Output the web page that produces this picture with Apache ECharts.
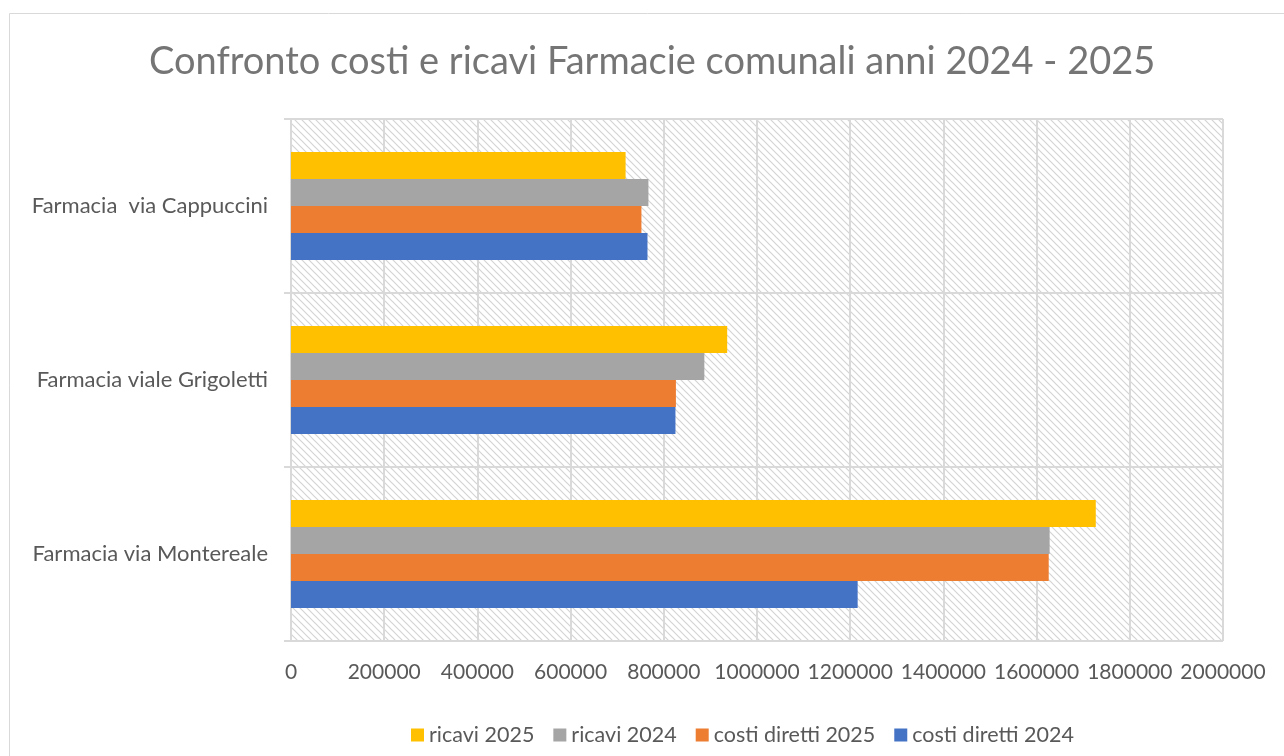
<!DOCTYPE html>
<html>
<head>
<meta charset="utf-8">
<script src="https://cdn.jsdelivr.net/npm/echarts@6/dist/echarts.min.js"></script>
<style>
  html, body { margin: 0; padding: 0; background: #fff; }
  #chart { width: 1284px; height: 756px; }
</style>
</head>
<body>
<div id="chart"></div>
<script>
// Pharmacies (bottom to top on the category axis)
const farmacie = ['Farmacia via Montereale', 'Farmacia viale Grigoletti', 'Farmacia  via Cappuccini'];

// Values per pharmacy, same order as above (euro)
const costiDiretti2024 = [1216000, 825000, 765000];
const costiDiretti2025 = [1626000, 826000, 752000];
const ricavi2024 = [1628000, 887000, 767000];
const ricavi2025 = [1727000, 936000, 718000];

const xTicks = [0, 200000, 400000, 600000, 800000, 1000000, 1200000, 1400000, 1600000, 1800000, 2000000];

const FONT = 'Lato, "Open Sans", sans-serif';

// light diagonal hatch used as the plot background
function hatchPattern() {
  const c = document.createElement('canvas');
  c.width = 7; c.height = 7;
  const g = c.getContext('2d');
  g.fillStyle = '#ffffff';
  g.fillRect(0, 0, 7, 7);
  g.strokeStyle = '#d4d4d4';
  g.lineWidth = 1.2;
  g.beginPath();
  g.moveTo(-1, -1); g.lineTo(8, 8);
  g.moveTo(-8, -1); g.lineTo(1, 8);
  g.moveTo(6, -1); g.lineTo(15, 8);
  g.stroke();
  return { image: c, repeat: 'repeat' };
}

const chart = echarts.init(document.getElementById('chart'), null, { renderer: 'canvas' });

function bar(name, data, color) {
  return {
    name: name,
    type: 'bar',
    data: data,
    barWidth: 27,
    barGap: '0%',
    itemStyle: { color: color },
    emphasis: { disabled: true }
  };
}

chart.setOption({
  animation: false,
  backgroundColor: '#ffffff',
  title: {
    text: 'Confronto costi e ricavi Farmacie comunali anni 2024 - 2025',
    left: 144,
    top: 38,
    textStyle: { fontFamily: FONT, fontSize: 38, fontWeight: 'normal', color: '#757575' }
  },
  graphic: [{
    type: 'rect',
    shape: { x: 9.5, y: 13.5, width: 1400, height: 900 },
    style: { fill: 'none', stroke: '#d9d9d9', lineWidth: 1 },
    silent: true
  }],
  legend: {
    data: ['ricavi 2025', 'ricavi 2024', 'costi diretti 2025', 'costi diretti 2024'],
    top: 719,
    left: 406,
    itemWidth: 13,
    itemHeight: 13,
    itemGap: 19,
    icon: 'rect',
    textStyle: { fontFamily: FONT, fontSize: 21.5, color: '#595959' }
  },
  grid: {
    left: 291,
    right: 61,
    top: 119,
    bottom: 115,
    show: true,
    borderWidth: 0,
    backgroundColor: hatchPattern()
  },
  xAxis: {
    type: 'value',
    min: xTicks[0],
    max: xTicks[xTicks.length - 1],
    interval: xTicks[1] - xTicks[0],
    axisLine: { show: false },
    axisTick: { show: false },
    splitLine: { show: true, lineStyle: { color: '#d9d9d9', width: 2 } },
    axisLabel: {
      fontFamily: FONT, fontSize: 21, color: '#595959', margin: 21,
      formatter: v => String(v)
    }
  },
  yAxis: {
    type: 'category',
    data: farmacie,
    axisLine: { show: false },
    axisTick: { show: true, length: 7, lineStyle: { color: '#d9d9d9', width: 2 } },
    splitLine: { show: true, lineStyle: { color: '#d9d9d9', width: 2 } },
    axisLabel: { fontFamily: FONT, fontSize: 22, color: '#595959', margin: 23 }
  },
  // within each group the first series sits on top
  series: [
    bar('ricavi 2025', ricavi2025, '#FFC000'),
    bar('ricavi 2024', ricavi2024, '#A5A5A5'),
    bar('costi diretti 2025', costiDiretti2025, '#ED7D31'),
    bar('costi diretti 2024', costiDiretti2024, '#4472C4')
  ]
});
</script>
</body>
</html>
